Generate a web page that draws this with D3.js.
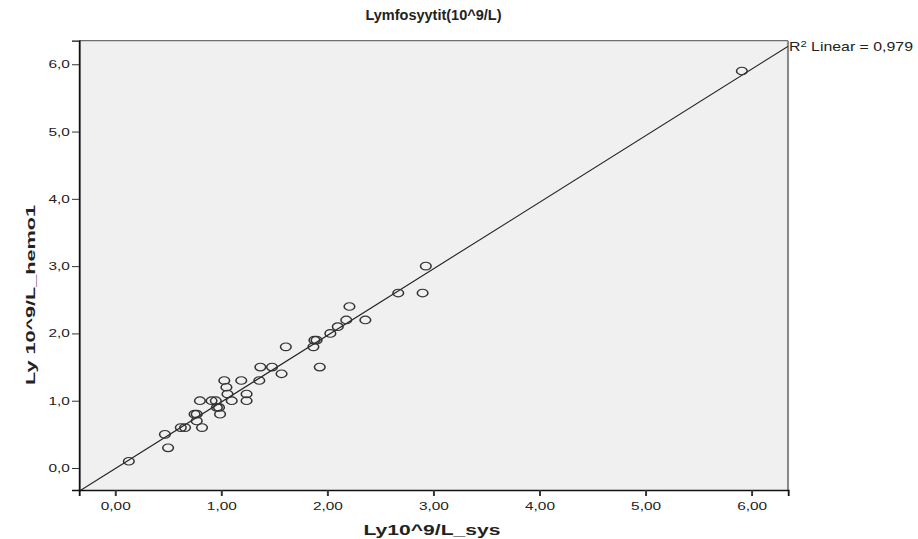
<!DOCTYPE html>
<html>
<head>
<meta charset="utf-8">
<script src="https://cdn.jsdelivr.net/npm/d3@7"></script>
<style>
  body { margin: 0; background: #fff; }
  svg { display: block; }
  text { font-family: Arial, "Liberation Sans", sans-serif; fill: #222; }
</style>
</head>
<body>
<div id="chart"></div>
<script>
// Ly10^9/L_sys (x) and Ly 10^9/L_hemo1 (y)
const sysValues = [0.13, 0.47, 0.50, 0.62, 0.66, 0.82, 0.77, 0.75, 0.77, 0.99,
                   0.96, 0.98, 0.80, 0.91, 0.95, 1.10, 1.24, 1.06, 1.24, 1.05,
                   1.03, 1.19, 1.36, 1.37, 1.48, 1.57, 1.93, 1.61, 1.87, 1.88,
                   1.90, 2.03, 2.10, 2.18, 2.36, 2.21, 2.67, 2.90, 2.93, 5.91];
const hemoValues = [0.1, 0.5, 0.3, 0.6, 0.6, 0.6, 0.7, 0.8, 0.8, 0.8,
                    0.9, 0.9, 1.0, 1.0, 1.0, 1.0, 1.0, 1.1, 1.1, 1.2,
                    1.3, 1.3, 1.3, 1.5, 1.5, 1.4, 1.5, 1.8, 1.8, 1.9,
                    1.9, 2.0, 2.1, 2.2, 2.2, 2.4, 2.6, 2.6, 3.0, 5.9];
const xTicks = [0, 1, 2, 3, 4, 5, 6];
const yTicks = [0, 1, 2, 3, 4, 5, 6];
const chartTitle = "Lymfosyytit(10^9/L)";
const xTitle = "Ly10^9/L_sys";
const yTitle = "Ly 10^9/L_hemo1";
const r2Text = "0,979";

(function () {
    const W = 918, H = 539;
    const SX = 1.4; // the picture is stretched sideways
    const iw = W / SX;

    const pLeft = 79 / SX, pRight = 788 / SX, pTop = 40.7, pBottom = 490;

    const fi = d3.formatLocale({ decimal: ",", thousands: " ", grouping: [3], currency: ["", ""] });

    const svg = d3.select("#chart").append("svg")
        .attr("width", W)
        .attr("height", H)
        .attr("viewBox", `0 0 ${iw} ${H}`)
        .attr("preserveAspectRatio", "none");

    const x = d3.scaleLinear().domain([-0.34, 6.345]).range([pLeft, pRight]);
    const y = d3.scaleLinear().domain([-0.327, 6.35]).range([pBottom, pTop]);

    // plot background
    svg.append("rect")
        .attr("x", pLeft).attr("y", pTop)
        .attr("width", pRight - pLeft).attr("height", pBottom - pTop)
        .attr("fill", "#f0f0f0");

    svg.append("defs").append("clipPath").attr("id", "clip")
        .append("rect")
        .attr("x", pLeft).attr("y", pTop)
        .attr("width", pRight - pLeft).attr("height", pBottom - pTop);

    // frame: top and right in gray
    svg.append("line")
        .attr("x1", pLeft).attr("x2", pRight).attr("y1", pTop).attr("y2", pTop)
        .attr("stroke", "#6e6e6e").attr("stroke-width", 1.3);
    svg.append("line")
        .attr("x1", pRight).attr("x2", pRight).attr("y1", pTop).attr("y2", pBottom)
        .attr("stroke", "#8a8a8a").attr("stroke-width", 1.5);

    // regression line (least squares)
    const n = sysValues.length;
    const mx = d3.mean(sysValues), my = d3.mean(hemoValues);
    let sxy = 0, sxx = 0;
    for (let i = 0; i < n; i++) {
        sxy += (sysValues[i] - mx) * (hemoValues[i] - my);
        sxx += (sysValues[i] - mx) ** 2;
    }
    const slope = sxy / sxx;
    const icpt = my - slope * mx;
    const [d0, d1] = x.domain();

    svg.append("line")
        .attr("clip-path", "url(#clip)")
        .attr("x1", x(d0)).attr("y1", y(icpt + slope * d0))
        .attr("x2", x(d1)).attr("y2", y(icpt + slope * d1))
        .attr("stroke", "#222").attr("stroke-width", 1);

    // points
    svg.append("g")
        .selectAll("circle")
        .data(sysValues.map((v, i) => [v, hemoValues[i]]))
        .enter()
        .append("circle")
        .attr("cx", d => x(d[0]))
        .attr("cy", d => y(d[1]))
        .attr("r", 3.8)
        .attr("fill", "none")
        .attr("stroke", "#333")
        .attr("stroke-width", 1.1);

    // x axis
    const gx = svg.append("g")
        .attr("transform", `translate(0,${pBottom})`)
        .call(d3.axisBottom(x).tickValues(xTicks).tickFormat(fi.format(".2f")).tickSize(6).tickPadding(6));
    gx.select(".domain").attr("stroke", "#111").attr("stroke-width", 1.3);
    gx.selectAll(".tick line").attr("stroke", "#333").attr("stroke-width", 1.4);
    gx.selectAll(".tick text").attr("font-size", 11).attr("fill", "#222");

    // y axis
    const gy = svg.append("g")
        .attr("transform", `translate(${pLeft},0)`)
        .call(d3.axisLeft(y).tickValues(yTicks).tickFormat(fi.format(".1f")).tickSize(5).tickPadding(1.5));
    gy.select(".domain").attr("stroke", "#111").attr("stroke-width", 1.3);
    gy.selectAll(".tick line").attr("stroke", "#333").attr("stroke-width", 1);
    gy.selectAll(".tick text").attr("font-size", 11).attr("fill", "#222");
    gx.attr("font-family", null);
    gy.attr("font-family", null);

    // titles
    svg.append("text")
        .attr("x", x((d0 + d1) / 2)).attr("y", 20)
        .attr("text-anchor", "middle")
        .attr("font-size", 14).attr("font-weight", "bold")
        .attr("textLength", 136 / SX).attr("lengthAdjust", "spacingAndGlyphs")
        .text(chartTitle);

    svg.append("text")
        .attr("x", 432 / SX).attr("y", 535)
        .attr("text-anchor", "middle")
        .attr("font-size", 15).attr("font-weight", "bold")
        .attr("textLength", 137 / SX).attr("lengthAdjust", "spacingAndGlyphs")
        .text(xTitle);

    svg.append("text")
        .attr("transform", `translate(${35 / SX},295) rotate(-90)`)
        .attr("text-anchor", "middle")
        .attr("font-size", 8.5).attr("font-weight", "bold")
        .attr("textLength", 180).attr("lengthAdjust", "spacingAndGlyphs")
        .text(yTitle);

    // R² label at the right end of the fit line
    const r2 = svg.append("text")
        .attr("x", pRight + 1 / SX).attr("y", y(icpt + slope * d1) + 5)
        .attr("font-size", 12)
        .attr("textLength", 124 / SX).attr("lengthAdjust", "spacingAndGlyphs");
    r2.append("tspan").text("R");
    r2.append("tspan").attr("font-size", 8.5).attr("dy", -4).text("2");
    r2.append("tspan").attr("dy", 4).text(" Linear = " + r2Text);
})();
</script>
</body>
</html>
